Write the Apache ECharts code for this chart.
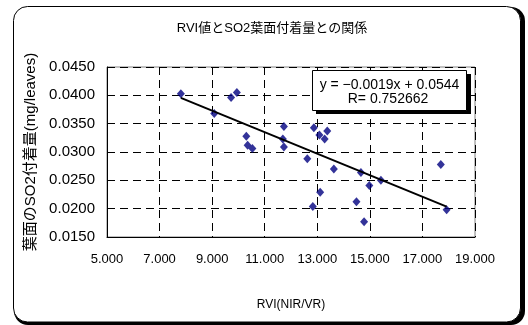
<!DOCTYPE html>
<html>
<head>
<meta charset="utf-8">
<script src="https://cdn.jsdelivr.net/npm/echarts@6/dist/echarts.min.js"></script>
<style>
html,body{margin:0;padding:0;background:#fff;}
#chart{width:528px;height:325px;}
</style>
</head>
<body>
<div id="chart"></div>
<script>
// RVI values (x) and SO2 deposit on leaves (y)
var rvi = [7.81, 9.08, 9.72, 9.94, 10.30, 10.35, 10.53, 11.73, 11.69, 11.73,
    12.62, 12.87, 13.08, 13.38, 13.28, 13.63, 13.11, 12.83, 14.49, 14.66,
    14.98, 15.42, 14.78, 17.70, 17.92];
var so2 = [0.0403, 0.0368, 0.0396, 0.0405, 0.0328, 0.0312, 0.0306, 0.0345, 0.0323, 0.0309,
    0.0288, 0.0343, 0.0330, 0.0337, 0.0323, 0.0270, 0.0229, 0.0204, 0.0212, 0.0264,
    0.0241, 0.0250, 0.0177, 0.0278, 0.0198];
var xTicks = ['5.000', '7.000', '9.000', '11.000', '13.000', '15.000', '17.000', '19.000'];
var yTicks = ['0.0150', '0.0200', '0.0250', '0.0300', '0.0350', '0.0400', '0.0450'];
// trendline from the chart's equation
var slope = -0.0019;
var intercept = 0.0544;
var trendX = [7.81, 17.92];
var eqText = 'y = \u22120.0019x + 0.0544';
var rText = 'R= 0.752662';

var points = rvi.map(function (x, i) { return [x, so2[i]]; });
var trend = trendX.map(function (x) { return [x, slope * x + intercept]; });

var mychart = echarts.init(document.getElementById('chart'));
var font = '"Liberation Sans", "Noto Sans CJK JP", sans-serif';
var option = {
    backgroundColor: '#fff',
    animation: false,
    textStyle: { fontFamily: font },
    title: {
        text: 'RVI値とSO2葉面付着量との関係',
        left: 267,
        top: 17,
        textAlign: 'center',
        textStyle: {
            color: '#000',
            fontSize: 13,
            fontWeight: 'normal',
            fontFamily: font
        }
    },
    graphic: [
        {
            type: 'rect', z: -10, silent: true,
            shape: { x: 14, y: 7, width: 511, height: 318, r: 14 },
            style: { fill: '#000' }
        },
        {
            type: 'rect', z: -9, silent: true,
            shape: { x: 13.5, y: 6.5, width: 507, height: 315.5, r: 14 },
            style: { fill: '#fff', stroke: '#000', lineWidth: 1 }
        },
        {
            type: 'rect', z: 100, silent: true,
            shape: { x: 316, y: 74, width: 155, height: 40 },
            style: { fill: '#000' }
        },
        {
            type: 'rect', z: 101, silent: true,
            shape: { x: 312.5, y: 70.5, width: 154, height: 40 },
            style: { fill: '#fff', stroke: '#000', lineWidth: 1 }
        },
        {
            type: 'text', z: 102, silent: true,
            style: {
                x: 389.5, y: 85, text: eqText, align: 'center', verticalAlign: 'middle',
                fill: '#000', fontSize: 14, fontFamily: font
            }
        },
        {
            type: 'text', z: 102, silent: true,
            style: {
                x: 388, y: 99, text: rText, align: 'center', verticalAlign: 'middle',
                fill: '#000', fontSize: 14, fontFamily: font
            }
        }
    ],
    grid: {
        left: 107,
        right: 53,
        top: 67,
        bottom: 88,
        show: true,
        backgroundColor: '#fff',
        borderColor: '#808080',
        borderWidth: 1
    },
    xAxis: {
        type: 'value',
        min: 5,
        max: 19,
        interval: 2,
        name: 'RVI(NIR/VR)',
        nameLocation: 'middle',
        nameGap: 62,
        nameTextStyle: { color: '#000', fontSize: 12, fontFamily: font },
        axisLine: { lineStyle: { color: '#000', width: 1 } },
        axisTick: { show: false },
        axisLabel: {
            color: '#000',
            fontSize: 13,
            margin: 16,
            formatter: function (v) { return xTicks[Math.round((v - 5) / 2)]; }
        },
        splitLine: { lineStyle: { color: '#000', type: [8, 5], width: 1 } }
    },
    yAxis: {
        type: 'value',
        min: 0.015,
        max: 0.045,
        interval: 0.005,
        name: '葉面のSO2付着量(mg/leaves)',
        nameLocation: 'middle',
        nameGap: 66,
        nameTextStyle: { color: '#000', fontSize: 15, fontFamily: font },
        axisLine: { show: true, lineStyle: { color: '#000', width: 1 } },
        axisTick: { show: false },
        axisLabel: {
            color: '#000',
            fontSize: 15,
            margin: 12,
            formatter: function (v) { return yTicks[Math.round((v - 0.015) / 0.005)]; }
        },
        splitLine: { lineStyle: { color: '#000', type: [8, 5], width: 1 } }
    },
    series: [
        {
            name: 'SO2',
            type: 'scatter',
            data: points,
            symbol: 'diamond',
            symbolSize: [8, 9],
            itemStyle: { color: '#000080' },
            z: 3
        },
        {
            name: 'trend',
            type: 'line',
            data: trend,
            symbol: 'none',
            lineStyle: { color: '#000', width: 2 },
            z: 4
        }
    ]
};
mychart.setOption(option);
</script>
</body>
</html>
